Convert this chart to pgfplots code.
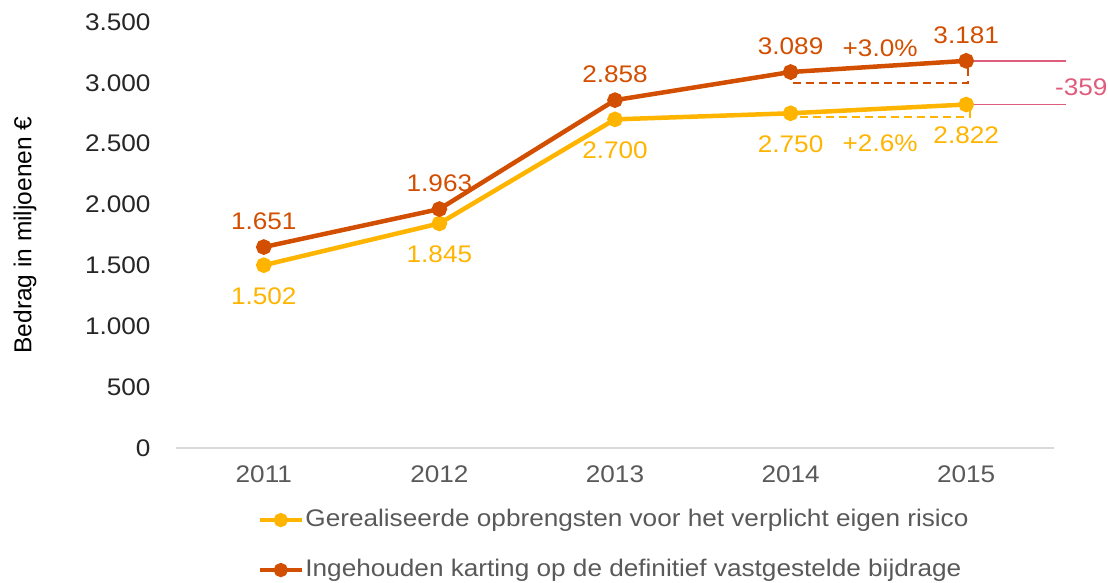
\documentclass[border=0pt]{standalone}
\usepackage{pgfplots}
\pgfplotsset{compat=1.18}
\usepackage{fontspec}
\setmainfont{Liberation Sans}[FakeStretch=1.09]
\newfontfamily\plainsans{Liberation Sans}
\definecolor{cy}{HTML}{FFB400}
\definecolor{cd}{HTML}{D24E00}
\definecolor{cp}{HTML}{DE5C7C}
\definecolor{tickc}{HTML}{262626}
\definecolor{xtickc}{HTML}{595959}
\definecolor{legc}{HTML}{595959}
\definecolor{basec}{HTML}{D9D9D9}
\newcommand{\cf}{\fontsize{24bp}{28bp}\selectfont}
\begin{document}
\begin{tikzpicture}
\useasboundingbox (-176bp,-135bp) rectangle (932bp,448bp);
\begin{axis}[
  scale only axis, width=878bp, height=426bp,
  at={(0,0)}, anchor=south west,
  xmin=-0.5, xmax=4.5, ymin=0, ymax=3500,
  clip=false,
  axis lines*=left,
  axis line style={-},
  x axis line style={draw=basec, line width=1.2bp},
  y axis line style={draw=none},
  major tick length=0pt,
  xtick={0,1,2,3,4},
  xticklabels={2011,2012,2013,2014,2015},
  ytick={0,500,1000,1500,2000,2500,3000,3500},
  yticklabels={0,500,1.000,1.500,2.000,2.500,3.000,3.500},
  tick label style={font=\cf, text=tickc},
  yticklabel style={xshift=-22bp},
  xticklabel style={yshift=-14bp, text=xtickc},
  ylabel={Bedrag in miljoenen €},
  ylabel style={at={(rel axis cs:-0.172,0.5)}, anchor=center, font=\plainsans\fontsize{24.5bp}{28bp}\selectfont, text=black},
  legend style={draw=none, fill=none, at={(rel axis cs:0.0934,-0.137)}, anchor=north west,
    font=\cf, text=legc, row sep=23bp, inner sep=0pt,
    nodes={inner sep=2bp, text height=18bp, text depth=5bp}},
  legend cell align=left,
  legend image code/.code={\draw[#1, line width=3.2bp, mark=none] (0bp,0bp)--(42bp,0bp); \fill[#1] (21bp,0bp) circle (4.8bp);},
]
\addplot[color=cy, line width=4.5bp, mark=*, mark size=5.5bp,
  nodes near coords, point meta=explicit symbolic,
  every node near coord/.style={anchor=center, yshift=-31bp, font=\cf, text=cy}]
  coordinates {(0,1502)[1.502] (1,1845)[1.845] (2,2700)[2.700] (3,2750)[2.750] (4,2822)[2.822]};
\addlegendentry{Gerealiseerde opbrengsten voor het verplicht eigen risico}
\addplot[color=cd, line width=4.5bp, mark=*, mark size=5.5bp,
  nodes near coords, point meta=explicit symbolic,
  every node near coord/.style={anchor=center, yshift=26bp, font=\cf, text=cd}]
  coordinates {(0,1651)[1.651] (1,1963)[1.963] (2,2858)[2.858] (3,3089)[3.089] (4,3181)[3.181]};
\addlegendentry{Ingehouden karting op de definitief vastgestelde bijdrage}
\draw[cd, line width=1.8bp, dash pattern=on 8bp off 5bp] (axis cs:3,3089) -- (axis cs:3,3000) -- (axis cs:4.01,3000) -- (axis cs:4.01,3181);
\draw[cy, line width=1.8bp, dash pattern=on 8bp off 5bp] (axis cs:3,2750) -- (axis cs:3,2722) -- (axis cs:4.02,2722) -- (axis cs:4.02,2822);
\draw[cp, line width=1.6bp] (axis cs:4.0,3181) -- (axis cs:4.57,3181);
\draw[cp, line width=1.6bp] (axis cs:4.0,2822) -- (axis cs:4.57,2822);
\node[font=\cf, text=cp, anchor=center] at (axis cs:4.655,2960) {-359};
\node[font=\cf, text=cd, anchor=center] at (axis cs:3.51,3287) {+3.0\%};
\node[font=\cf, text=cy, anchor=center] at (axis cs:3.51,2506) {+2.6\%};
\end{axis}
\end{tikzpicture}
\end{document}
